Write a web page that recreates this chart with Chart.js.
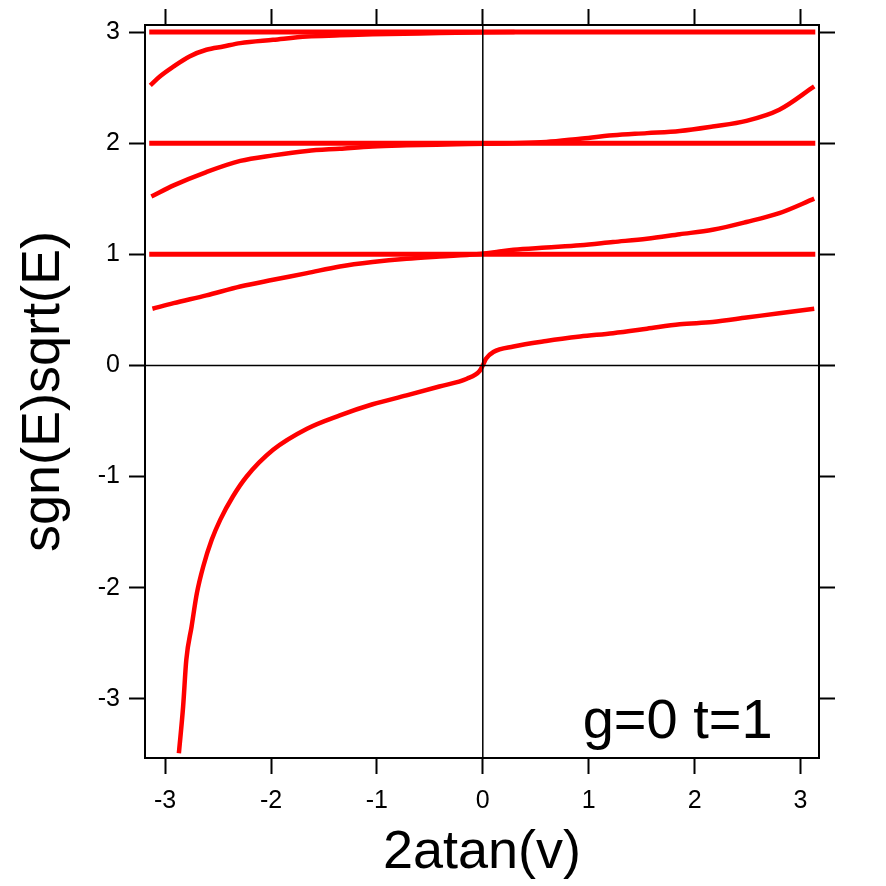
<!DOCTYPE html>
<html>
<head>
<meta charset="utf-8">
<script src="https://cdn.jsdelivr.net/npm/chart.js@4"></script>
<style>
  html, body { margin: 0; padding: 0; background: #fff; }
  #wrap { width: 886px; height: 886px; }
</style>
</head>
<body>
<div id="wrap"><canvas id="myChart" width="886" height="886"></canvas></div>
<script>
// lowest band (goes negative)
const band1X = [-2.87, -2.83, -2.80, -2.75, -2.70, -2.64, -2.56, -2.48, -2.36, -2.23, -1.98, -1.66, -1.35, -1.04, -0.72, -0.41, -0.15, -0.03, 0.0, 0.03, 0.10, 0.29, 0.60, 0.92, 1.23, 1.55, 1.86, 2.17, 2.49, 2.80, 3.13];
const band1Y = [-3.49, -3.07, -2.65, -2.35, -2.05, -1.81, -1.57, -1.39, -1.18, -1.00, -0.76, -0.57, -0.45, -0.35, -0.27, -0.19, -0.12, -0.05, 0.0, 0.06, 0.12, 0.17, 0.22, 0.26, 0.29, 0.33, 0.37, 0.39, 0.43, 0.47, 0.51];

const band2X = [-3.12, -2.92, -2.61, -2.29, -1.98, -1.66, -1.35, -1.04, -0.72, -0.41, -0.06, 0.13, 0.29, 0.60, 0.92, 1.23, 1.55, 1.86, 2.17, 2.49, 2.80, 3.13];
const band2Y = [0.51, 0.56, 0.63, 0.71, 0.77, 0.83, 0.89, 0.93, 0.96, 0.98, 1.00, 1.02, 1.04, 1.06, 1.08, 1.11, 1.14, 1.18, 1.22, 1.29, 1.37, 1.50];

const band3X = [-3.13, -2.92, -2.61, -2.29, -1.98, -1.66, -1.35, -1.04, -0.72, -0.25, 0.60, 0.92, 1.23, 1.55, 1.86, 2.17, 2.49, 2.80, 3.13];
const band3Y = [1.52, 1.62, 1.74, 1.84, 1.89, 1.93, 1.95, 1.97, 1.98, 1.99, 2.01, 2.04, 2.07, 2.09, 2.11, 2.15, 2.20, 2.30, 2.51];

const band4X = [-3.14, -3.05, -2.92, -2.77, -2.61, -2.45, -2.29, -1.98, -1.66, -1.35, -1.04, -0.41, 0.30];
const band4Y = [2.52, 2.60, 2.69, 2.78, 2.84, 2.87, 2.90, 2.93, 2.96, 2.97, 2.98, 2.99, 3.00];

// flat levels
const flatX = [-3.15, 3.14];
const flatLevels = [1, 2, 3];

const xTicks = [-3, -2, -1, 0, 1, 2, 3];
const yTicks = [-3, -2, -1, 0, 1, 2, 3];

const FONT = '"Liberation Sans", Arial, sans-serif';

function toPoints(xs, ys) {
  return xs.map((x, i) => ({ x: x, y: ys[i] }));
}

const datasets = [];
flatLevels.forEach(function (lv) {
  datasets.push({
    data: flatX.map(x => ({ x: x, y: lv })),
    borderColor: '#ff0000', borderWidth: 5, pointRadius: 0
  });
});
[[band1X, band1Y], [band2X, band2Y], [band3X, band3Y], [band4X, band4Y]].forEach(function (b) {
  datasets.push({
    data: toPoints(b[0], b[1]),
    borderColor: '#ff0000', borderWidth: 4.5, pointRadius: 0,
    cubicInterpolationMode: 'monotone'
  });
});

// zero lines on top of the data, plus the text label
const extras = {
  id: 'extras',
  afterDatasetsDraw(chart) {
    const c = chart.ctx, a = chart.chartArea;
    const x0 = chart.scales.x.getPixelForValue(0);
    const y0 = chart.scales.y.getPixelForValue(0);
    c.save();
    c.strokeStyle = '#000';
    c.lineWidth = 1.5;
    c.beginPath();
    c.moveTo(x0, a.top); c.lineTo(x0, a.bottom);
    c.moveTo(a.left, y0); c.lineTo(a.right, y0);
    c.stroke();
    c.fillStyle = '#000';
    c.font = '56px ' + FONT;
    c.textAlign = 'center';
    c.textBaseline = 'middle';
    c.fillText('g=0 t=1', chart.scales.x.getPixelForValue(1.84), chart.scales.y.getPixelForValue(-3.21));
    c.restore();
  }
};

function sideAxis(pos, min, max, size, showLabels, title) {
  const horiz = pos === 'top' || pos === 'bottom';
  return {
    type: 'linear', position: pos, min: min, max: max,
    afterBuildTicks(s) { s.ticks = (horiz ? xTicks : yTicks).map(v => ({ value: v })); },
    afterFit(s) { if (horiz) s.height = size; else s.width = size; },
    border: { display: true, color: '#000', width: 2 },
    grid: { drawOnChartArea: false, drawTicks: true, tickLength: 16, tickColor: '#000', tickWidth: 2 },
    ticks: {
      display: showLabels, color: '#000', padding: horiz ? 12 : 9,
      font: { family: FONT, size: 25 }
    },
    title: title ? {
      display: true, text: title, color: '#000',
      font: { family: FONT, size: horiz ? 54 : 54 },
      padding: horiz ? { top: 0, bottom: 0 } : { top: 12, bottom: 0 }
    } : { display: false }
  };
}

new Chart(document.getElementById('myChart'), {
  type: 'line',
  data: { datasets: datasets },
  options: {
    responsive: false,
    animation: false,
    events: [],
    layout: { padding: 0 },
    plugins: { legend: { display: false }, tooltip: { enabled: false } },
    scales: {
      x: sideAxis('bottom', -3.19, 3.175, 128, true, '2atan(v)'),
      x2: sideAxis('top', -3.19, 3.175, 25, false, null),
      y: sideAxis('left', -3.533, 3.063, 145, true, 'sgn(E)sqrt(E)'),
      y2: sideAxis('right', -3.533, 3.063, 67, false, null)
    }
  },
  plugins: [extras]
});
</script>
</body>
</html>
